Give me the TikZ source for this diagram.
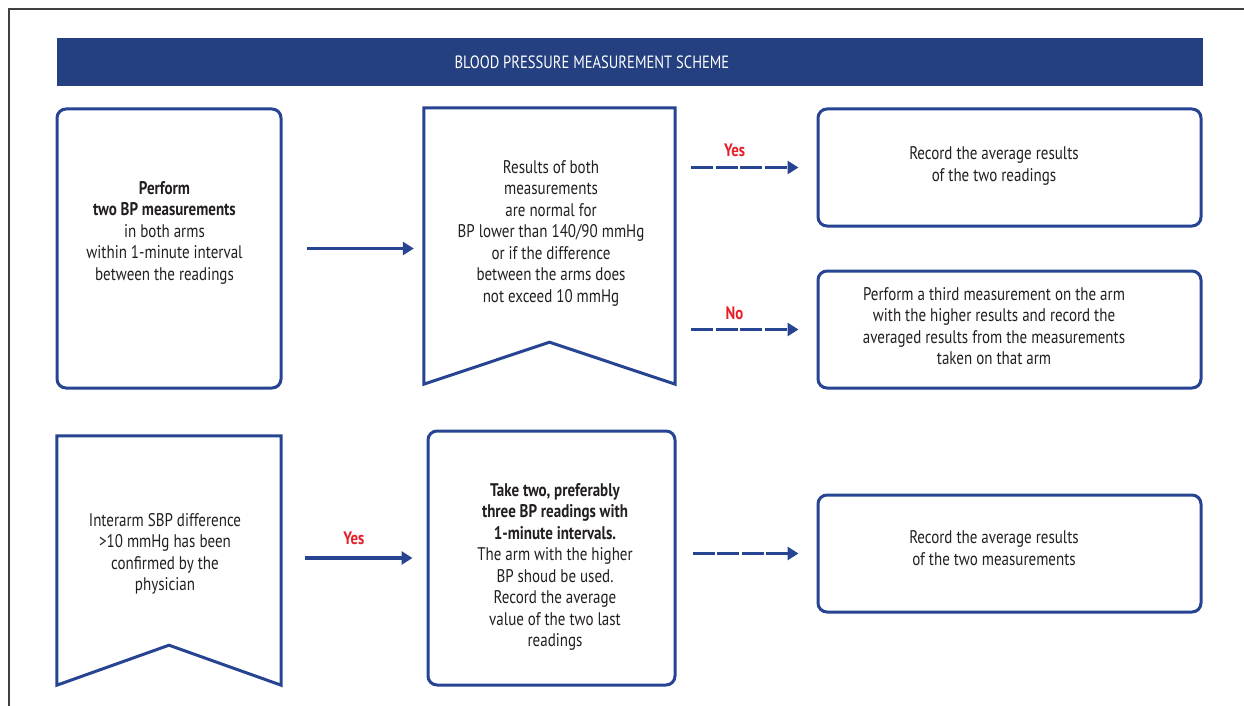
\documentclass[tikz,border=0pt]{standalone}
\usepackage{fontspec}
\setmainfont{PT Sans}[FakeStretch=0.82]
\usepackage{tikz}
\usetikzlibrary{positioning,calc,arrows.meta}

\definecolor{bpblue}{RGB}{38,68,146}
\definecolor{headblue}{RGB}{36,64,128}
\definecolor{txtgray}{RGB}{35,31,32}
\definecolor{answred}{RGB}{230,30,40}

\tikzset{
  box/.style={draw=bpblue, line width=3pt, rounded corners=9pt, inner sep=0pt},
  flagbox/.style={inner sep=0pt},
  flagline/.style={draw=bpblue, line width=3pt, line join=miter},
  txt/.style={align=center, text=txtgray, inner sep=0pt, font=\fontsize{18.3}{21.5}\selectfont},
  flow/.style={draw=bpblue, line width=3.2pt, -{Triangle[length=11pt,width=13pt]}},
  dflow/.style={flow, dash pattern=on 22pt off 2.5pt},
  answer/.style={text=answred, font=\fontsize{18}{20}\selectfont\bfseries, inner sep=0pt}
}

\begin{document}
\begin{tikzpicture}[x=1pt, y=-1pt]
  \useasboundingbox (0,0) rectangle (1244,706);
  % frame
  \draw[line width=1.2pt, black!75] (9,706) -- (9,9) -- (1244,9);

  % title bar
  \node[fill=headblue, minimum width=1146pt, minimum height=48pt, inner sep=0pt] (bar) at (630,62) {};
  \node[text=white, inner sep=0pt, font=\fontsize{17.8}{20}\selectfont] (title) at (592,62) {BLOOD PRESSURE MEASUREMENT SCHEME};

  % top row
  \node[box, minimum width=224pt, minimum height=279pt] (meas) at (169,248.5) {};
  \node[txt] (meastxt) at ([xshift=-4.5pt, yshift=16pt]meas.center)
    {\textbf{Perform}\\ \textbf{two BP measurements}\\ in both arms\\ within 1-minute interval\\ between the readings};

  \node[flagbox, minimum width=251pt, minimum height=276pt] (cond) at (549.5,246) {};
  \draw[flagline] (cond.north west) -- (cond.north east) -- (cond.south east)
    -- ($(cond.south)+(0,-42)$) -- (cond.south west) -- cycle;
  \node[txt] (condtxt) at ([xshift=1.5pt, yshift=13pt]cond.center)
    {Results of both\\ measurements\\ are normal for\\ BP lower than 140/90 mmHg\\ or if the difference\\ between the arms does\\ not exceed 10 mmHg};

  \node[box, minimum width=383pt, minimum height=117pt] (avg1) at (1009.5,167.5) {};
  \node[txt] (avg1txt) at ([xshift=-15.5pt, yshift=1.5pt]avg1.center)
    {Record the average results\\ of the two readings};

  \node[box, minimum width=383pt, minimum height=117pt] (third) at (1009.5,329.5) {};
  \node[txt] (thirdtxt) at ([xshift=-15.5pt, yshift=3.5pt]third.center)
    {Perform a third measurement on the arm\\ with the higher results and record the\\ averaged results from the measurements\\ taken on that arm};

  % bottom row
  \node[flagbox, minimum width=224pt, minimum height=249pt] (diff) at (169,560.5) {};
  \draw[flagline] (diff.north west) -- (diff.north east) -- (diff.south east)
    -- ($(diff.south)+(0,-40)$) -- (diff.south west) -- cycle;
  \node[txt] (difftxt) at ([xshift=-4pt, yshift=6.5pt]diff.center)
    {Interarm SBP difference\\ >10 mmHg has been\\ confirmed by the\\ physician};

  \node[box, minimum width=247pt, minimum height=254pt] (take) at (551.5,558) {};
  \node[txt] (taketxt) at ([xshift=3.5pt, yshift=-9pt]take.center)
    {\textbf{Take two, preferably}\\ \textbf{three BP readings with}\\ \textbf{1-minute intervals.}\\ The arm with the higher\\ BP shoud be used.\\ Record the average\\ value of the two last\\ readings};

  \node[box, minimum width=383pt, minimum height=117pt] (avg2) at (1009.5,553.5) {};
  \node[txt] (avg2txt) at ([xshift=-15.5pt, yshift=5.5pt]avg2.center)
    {Record the average results\\ of the two measurements};

  % connectors
  \draw[flow, shorten <=24pt, shorten >=10pt] (meas.east) -- (meas.east -| cond.west);
  \draw[dflow, shorten <=16pt, shorten >=18pt] (avg1.west -| cond.east) -- (avg1.west)
    node[answer, pos=0.42, above=9pt] (yes1) {Yes};
  \draw[dflow, shorten <=16pt, shorten >=18pt] (third.west -| cond.east) -- (third.west)
    node[answer, pos=0.42, above=8pt] (no1) {No};
  \draw[flow, shorten <=24pt, shorten >=14pt] (take.west -| diff.east) -- (take.west)
    node[answer, pos=0.5, above=12pt] (yes2) {Yes};
  \draw[dflow, shorten <=16pt, shorten >=18pt] (avg2.west -| take.east) -- (avg2.west);
\end{tikzpicture}
\end{document}
